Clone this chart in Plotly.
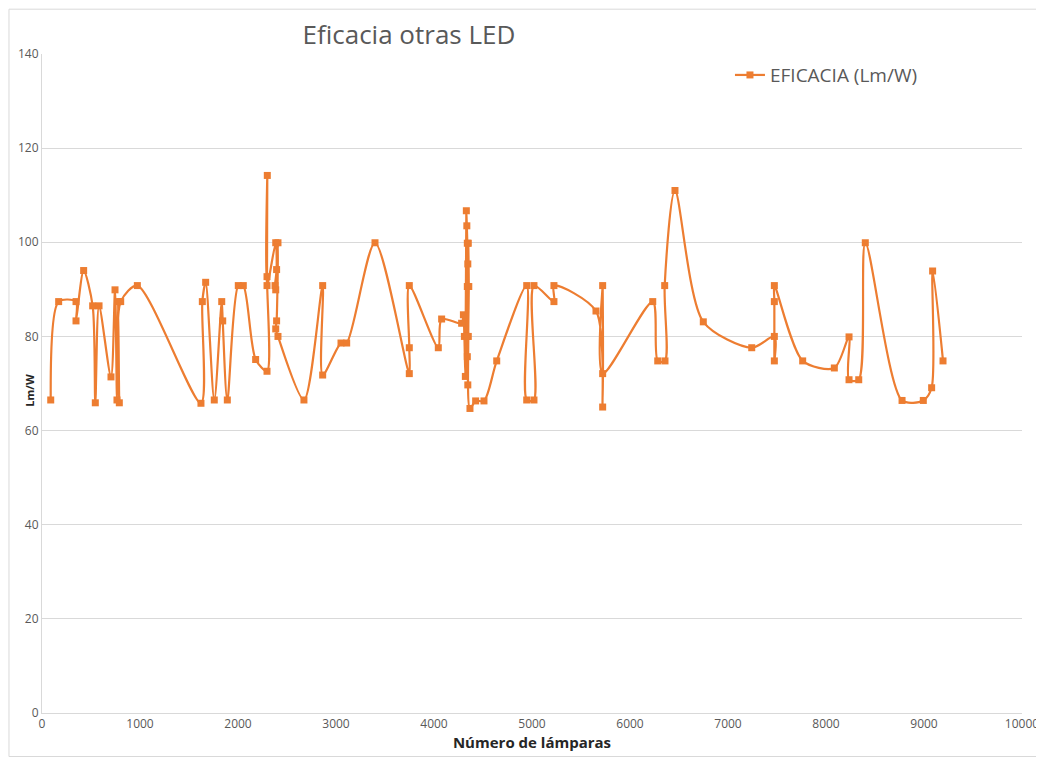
import plotly.graph_objects as go

# Número de lámparas (x) and eficacia (y), in the order Excel connects them
lamparas = [
    89, 170, 347, 347, 425, 517, 544, 582, 704, 745, 765, 776, 789, 803, 973,
    1622, 1636, 1670, 1758, 1834, 1844, 1891, 2003, 2054, 2180, 2296, 2296, 2299,
    2296, 2385, 2394, 2378, 2385, 2408, 2394, 2385, 2408, 2673, 2864, 2864,
    3051, 3109, 3398, 3748, 3748, 3748, 4044, 4078, 4282,
    4300, 4310, 4320, 4330, 4335, 4340, 4345, 4340, 4335, 4340, 4345, 4350, 4355, 4350,
    4367, 4425, 4510, 4640, 4946, 4946, 5020, 5020, 5224, 5224, 5653,
    5721, 5721, 5721, 6232, 6283, 6357, 6354, 6459, 6748, 7242,
    7473, 7473, 7473, 7473, 7762, 8085, 8235, 8235, 8334, 8401,
    8776, 8993, 9078, 9088, 9194,
]
eficacia = [
    66.5, 87.4, 87.4, 83.3, 94.0, 86.5, 65.9, 86.5, 71.4, 89.9, 66.5, 87.4, 65.9, 87.4, 90.8,
    65.8, 87.4, 91.5, 66.5, 87.4, 83.3, 66.5, 90.8, 90.8, 75.1, 72.6, 92.7, 114.2,
    90.8, 99.9, 94.2, 90.8, 89.9, 99.9, 83.3, 81.6, 80.0, 66.5, 90.8, 71.8,
    78.6, 78.6, 99.9, 72.1, 77.6, 90.8, 77.6, 83.7, 82.8,
    84.6, 80.0, 71.5, 106.7, 103.5, 99.8, 95.4, 90.6, 80.0, 75.7, 69.7, 99.8, 90.6, 80.0,
    64.7, 66.3, 66.3, 74.8, 90.8, 66.5, 66.5, 90.8, 87.4, 90.8, 85.4,
    65.0, 90.8, 72.1, 87.4, 74.8, 74.8, 90.8, 111.0, 83.1, 77.6,
    80.0, 74.8, 87.4, 90.8, 74.8, 73.3, 79.9, 70.8, 70.8, 99.9,
    66.4, 66.4, 69.1, 93.9, 74.8,
]

naranja = "#ED7D31"
gris = "#595959"

fig = go.Figure()
fig.add_trace(go.Scatter(
    x=lamparas, y=eficacia, mode="lines+markers", name="EFICACIA (Lm/W)",
    line=dict(color=naranja, width=2.2, shape="spline", smoothing=0.8),
    marker=dict(symbol="square", size=7, color=naranja),
))

# outer chart border (the page body adds an 8 px offset)
fig.add_shape(type="rect", xref="paper", yref="paper",
              x0=-0.0337, x1=1.018, y0=-0.066, y1=1.068,
              line=dict(color="#d9d9d9", width=1))

# y axis title sits between the tick labels and the axis, as in Excel
fig.add_annotation(text="<b>Lm/W</b>", xref="paper", yref="paper", x=-0.003, y=0.49,
                   xanchor="right", yanchor="middle", textangle=-90, showarrow=False,
                   font=dict(size=11, color="#262626"))

fig.update_layout(
    width=1036, height=752,
    margin=dict(l=34, r=22, t=46, b=47),
    paper_bgcolor="white", plot_bgcolor="white",
    font=dict(family="Open Sans, Liberation Sans, sans-serif", color=gris),
    title=dict(text="Eficacia otras LED", x=0.387, xanchor="center", y=0.964, yanchor="middle",
               font=dict(size=26, color=gris)),
    showlegend=True,
    legend=dict(x=0.702, y=0.968, xanchor="left", yanchor="middle",
                font=dict(size=19, color=gris), bgcolor="rgba(0,0,0,0)"),
    xaxis=dict(range=[0, 10000], dtick=1000, tickformat="d", showgrid=False, zeroline=False,
               showline=True, linecolor="#d9d9d9", ticks="", tickfont=dict(size=12, color=gris),
               automargin=False,
               title=dict(text="<b>Número de lámparas</b>", font=dict(size=15, color="#262626"), standoff=6)),
    yaxis=dict(range=[0, 140], dtick=20, showgrid=True, gridcolor="#d9d9d9", zeroline=False,
               showline=True, linecolor="#d9d9d9", ticks="", tickfont=dict(size=12, color=gris),
               automargin=False),
)

fig.write_html("out.html")
